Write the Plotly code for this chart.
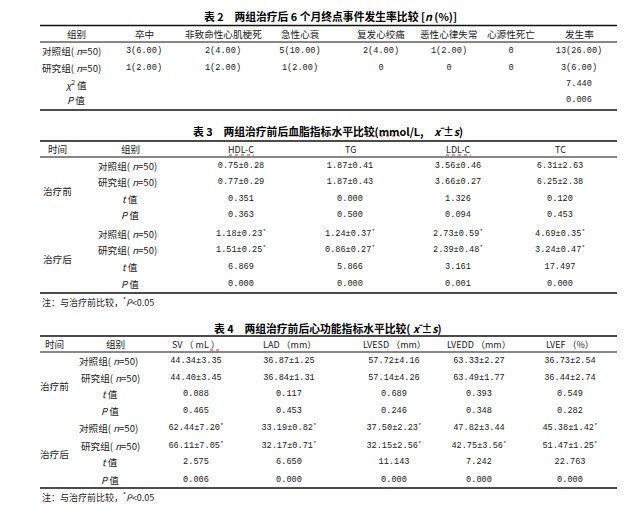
import plotly.graph_objects as go

# ---------------- data: 表2 ----------------
t2_title = "表 2　两组治疗后 6 个月终点事件发生率比较 [<i>n</i> (%)]"
t2_events = ["卒中", "非致命性心肌梗死", "急性心衰", "复发心绞痛", "恶性心律失常", "心源性死亡", "发生率"]
t2_control_n = [3, 2, 5, 2, 1, 0, 13]
t2_control_pct = [6.00, 4.00, 10.00, 4.00, 2.00, None, 26.00]
t2_study_n = [1, 1, 1, 0, 0, 0, 3]
t2_study_pct = [2.00, 2.00, 2.00, None, None, None, 6.00]
t2_chi2 = 7.440
t2_p = 0.006

# ---------------- data: 表3 ----------------
t3_title = "表 3　两组治疗前后血脂指标水平比较(mmol/L,　<i>x̄</i> ±<i>s</i>)"
t3_items = ["HDL-C", "TG", "LDL-C", "TC"]
t3_pre_ctrl_mean = [0.75, 1.87, 3.56, 6.31]
t3_pre_ctrl_sd = [0.28, 0.41, 0.46, 2.63]
t3_pre_study_mean = [0.77, 1.87, 3.66, 6.25]
t3_pre_study_sd = [0.29, 0.43, 0.27, 2.38]
t3_pre_t = [0.351, 0.000, 1.326, 0.120]
t3_pre_p = [0.363, 0.500, 0.094, 0.453]
t3_post_ctrl_mean = [1.18, 1.24, 2.73, 4.69]
t3_post_ctrl_sd = [0.23, 0.37, 0.59, 0.35]
t3_post_ctrl_star = [1, 1, 1, 1]
t3_post_study_mean = [1.51, 0.86, 2.39, 3.24]
t3_post_study_sd = [0.25, 0.27, 0.48, 0.47]
t3_post_study_star = [1, 1, 1, 1]
t3_post_t = [6.869, 5.866, 3.161, 17.497]
t3_post_p = [0.000, 0.000, 0.001, 0.000]

# ---------------- data: 表4 ----------------
t4_title = "表 4　两组治疗前后心功能指标水平比较( <i>x̄</i> ±<i>s</i>)"
t4_items = ["SV （ mL ）", "LAD （mm）", "LVESD （mm）", "LVEDD （mm）", "LVEF （%）"]
t4_pre_ctrl_mean = [44.34, 36.87, 57.72, 63.33, 36.73]
t4_pre_ctrl_sd = [3.35, 1.25, 4.16, 2.27, 2.54]
t4_pre_study_mean = [44.40, 36.84, 57.14, 63.49, 36.44]
t4_pre_study_sd = [3.45, 1.31, 4.26, 1.77, 2.74]
t4_pre_t = [0.088, 0.117, 0.689, 0.393, 0.549]
t4_pre_p = [0.465, 0.453, 0.246, 0.348, 0.282]
t4_post_ctrl_mean = [62.44, 33.19, 37.50, 47.82, 45.38]
t4_post_ctrl_sd = [7.20, 0.82, 2.23, 3.44, 1.42]
t4_post_ctrl_star = [1, 1, 1, 0, 1]
t4_post_study_mean = [66.11, 32.17, 32.15, 42.75, 51.47]
t4_post_study_sd = [7.05, 0.71, 2.56, 3.56, 1.25]
t4_post_study_star = [1, 1, 1, 1, 1]
t4_post_t = [2.575, 6.650, 11.143, 7.242, 22.763]
t4_post_p = [0.006, 0.000, 0.000, 0.000, 0.000]

group_labels = ["对照组( <i>n</i>=50)", "研究组( <i>n</i>=50)"]
stat_labels = ["<i>t</i> 值", "<i>P</i> 值"]
note_text = "注：与治疗前比较，<sup>*</sup><i>P</i><0.05"

# ---------------- layout constants (pixels) ----------------
W, H = 644, 509
X0, X1 = 40, 617
CJK = "Noto Sans CJK SC"
NUM = "Liberation Mono, Noto Sans CJK SC"
INK = "#222222"

fig = go.Figure()


def cells(xs, ys, texts, family=NUM, size=8.6):
    fig.add_trace(go.Scatter(x=xs, y=ys, text=texts, mode="text",
                             textposition="middle center", hoverinfo="skip",
                             textfont=dict(family=family, size=size, color=INK)))


def label(x, y, text, anchor="center", size=9.6, color=INK, weight="normal"):
    fig.add_annotation(x=x, y=y, text=text, showarrow=False, xanchor=anchor,
                       yanchor="middle",
                       font=dict(family=CJK, size=size, color=color, weight=weight))


def title(x, y, text):
    label(x, y, text, size=10.8, color="#000000", weight="bold")


def hline(y, w=1.0):
    fig.add_shape(type="line", x0=X0, x1=X1, y0=y, y1=y, xref="x", yref="y",
                  line=dict(color="#111111", width=w))


def squiggle(xa, xb, y):
    fig.add_shape(type="line", x0=xa, x1=xb, y0=y, y1=y, xref="x", yref="y",
                  line=dict(color="#d23030", width=1, dash="dot"))


def ms(m, s, star=0):
    return f"{m:.2f}±{s:.2f}" + ("<sup>*</sup>" if star else "")


def npct(n, p):
    return "0" if p is None else f"{n}({p:.2f})"


# ---------------- 表2 ----------------
t2_cols = [144, 223, 300, 381, 449, 511, 579]
t2_rows = [51, 68, 84, 100]
title(330, 16, t2_title)
hline(25.5, 1.3)
label(76, 34, "组别")
for x, ev in zip(t2_cols, t2_events):
    label(x, 34, ev)
hline(42, 1.0)
label(X0, t2_rows[0], group_labels[0], anchor="left")
label(X0, t2_rows[1], group_labels[1], anchor="left")
label(76, t2_rows[2], "<i>χ</i><sup>2</sup> 值")
label(76, t2_rows[3], "<i>P</i> 值")
cells(t2_cols, [t2_rows[0]] * 7, [npct(n, p) for n, p in zip(t2_control_n, t2_control_pct)])
cells(t2_cols, [t2_rows[1]] * 7, [npct(n, p) for n, p in zip(t2_study_n, t2_study_pct)])
cells([t2_cols[-1]] * 2, t2_rows[2:], [f"{t2_chi2:.3f}", f"{t2_p:.3f}"])
hline(110, 1.3)

# ---------------- 表3 ----------------
t3_cols = [241, 350, 458, 560]
t3_pre_rows = [166, 182, 199, 215]
t3_post_rows = [234, 250, 267, 284]
title(328, 131, t3_title)
hline(141, 1.3)
label(57, 149, "时间")
label(130, 149, "组别")
for x, it in zip(t3_cols, t3_items):
    label(x, 149, it, size=9)
squiggle(229, 254, 155)
squiggle(446, 471, 155)
squiggle(374, 400, 136)
hline(157, 1.0)
for rows, tag in ((t3_pre_rows, "治疗前"), (t3_post_rows, "治疗后")):
    label(57, (rows[1] + rows[2]) / 2, tag)
    label(96, rows[0], group_labels[0], anchor="left")
    label(96, rows[1], group_labels[1], anchor="left")
    label(130, rows[2], stat_labels[0])
    label(130, rows[3], stat_labels[1])
r = t3_pre_rows
cells(t3_cols, [r[0]] * 4, [ms(m, s) for m, s in zip(t3_pre_ctrl_mean, t3_pre_ctrl_sd)])
cells(t3_cols, [r[1]] * 4, [ms(m, s) for m, s in zip(t3_pre_study_mean, t3_pre_study_sd)])
cells(t3_cols, [r[2]] * 4, [f"{v:.3f}" for v in t3_pre_t])
cells(t3_cols, [r[3]] * 4, [f"{v:.3f}" for v in t3_pre_p])
r = t3_post_rows
cells(t3_cols, [r[0]] * 4, [ms(m, s, k) for m, s, k in zip(t3_post_ctrl_mean, t3_post_ctrl_sd, t3_post_ctrl_star)])
cells(t3_cols, [r[1]] * 4, [ms(m, s, k) for m, s, k in zip(t3_post_study_mean, t3_post_study_sd, t3_post_study_star)])
cells(t3_cols, [r[2]] * 4, [f"{v:.3f}" for v in t3_post_t])
cells(t3_cols, [r[3]] * 4, [f"{v:.3f}" for v in t3_post_p])
hline(293, 1.3)
label(X0, 302, note_text, anchor="left", size=9)

# ---------------- 表4 ----------------
t4_cols = [196, 289, 394, 479, 570]
t4_pre_rows = [361, 378, 394, 411]
t4_post_rows = [428, 446, 462, 480]
title(328, 328, t4_title)
hline(336, 1.3)
label(54, 344, "时间")
label(115, 344, "组别")
for x, it in zip(t4_cols, t4_items):
    label(x, 344, it, size=9)
squiggle(210, 219, 350)
hline(352, 1.0)
for rows, tag in ((t4_pre_rows, "治疗前"), (t4_post_rows, "治疗后")):
    label(54, (rows[1] + rows[2]) / 2, tag)
    label(77, rows[0], group_labels[0], anchor="left")
    label(79, rows[1], group_labels[1], anchor="left")
    label(110, rows[2], stat_labels[0])
    label(110, rows[3], stat_labels[1])
r = t4_pre_rows
cells(t4_cols, [r[0]] * 5, [ms(m, s) for m, s in zip(t4_pre_ctrl_mean, t4_pre_ctrl_sd)])
cells(t4_cols, [r[1]] * 5, [ms(m, s) for m, s in zip(t4_pre_study_mean, t4_pre_study_sd)])
cells(t4_cols, [r[2]] * 5, [f"{v:.3f}" for v in t4_pre_t])
cells(t4_cols, [r[3]] * 5, [f"{v:.3f}" for v in t4_pre_p])
r = t4_post_rows
cells(t4_cols, [r[0]] * 5, [ms(m, s, k) for m, s, k in zip(t4_post_ctrl_mean, t4_post_ctrl_sd, t4_post_ctrl_star)])
cells(t4_cols, [r[1]] * 5, [ms(m, s, k) for m, s, k in zip(t4_post_study_mean, t4_post_study_sd, t4_post_study_star)])
cells(t4_cols, [r[2]] * 5, [f"{v:.3f}" for v in t4_post_t])
cells(t4_cols, [r[3]] * 5, [f"{v:.3f}" for v in t4_post_p])
hline(488, 1.3)
label(X0, 497, note_text, anchor="left", size=9)

fig.update_layout(
    width=W, height=H,
    margin=dict(l=0, r=0, t=0, b=0),
    paper_bgcolor="white", plot_bgcolor="white",
    showlegend=False,
    xaxis=dict(range=[0, W], visible=False, fixedrange=True),
    yaxis=dict(range=[H, 0], visible=False, fixedrange=True),
)

# drop the default page margin so the figure sits at the window's corner
fig.write_html("out.html", config={"displayModeBar": False},
               post_script="document.body.style.margin='0';")
